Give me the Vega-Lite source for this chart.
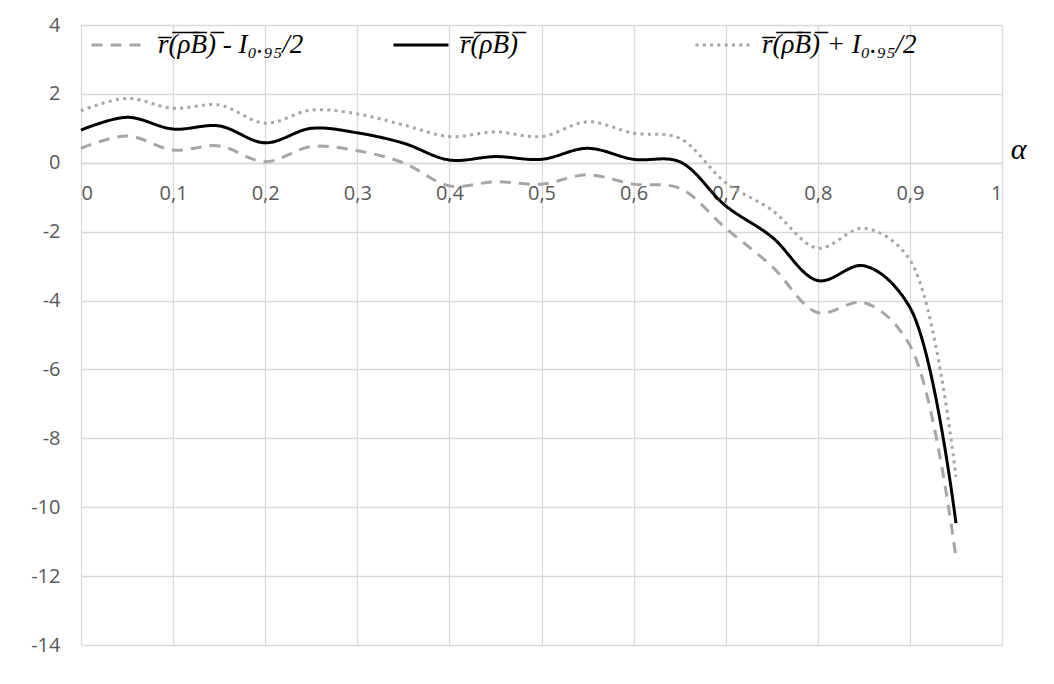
{
  "$schema": "https://vega.github.io/schema/vega-lite/v6.json",
  "width": 921,
  "height": 620,
  "autosize": {"type": "none"},
  "padding": {"left": 81, "top": 25, "right": 52, "bottom": 39},
  "background": "white",
  "config": {
    "view": {"stroke": null},
    "font": "Open Sans",
    "axis": {"gridColor": "#d9d9d9", "gridWidth": 1.3, "labelColor": "#595959", "labelFontSize": 20, "labelFont": "Open Sans", "ticks": false, "domain": false}
  },
  "data": {"values": [
    {"a": 0.00, "s": "mean", "v": 0.95}, {"a": 0.05, "s": "mean", "v": 1.32}, {"a": 0.10, "s": "mean", "v": 0.98}, {"a": 0.15, "s": "mean", "v": 1.07},
    {"a": 0.20, "s": "mean", "v": 0.58}, {"a": 0.25, "s": "mean", "v": 1.0}, {"a": 0.30, "s": "mean", "v": 0.87}, {"a": 0.35, "s": "mean", "v": 0.57},
    {"a": 0.40, "s": "mean", "v": 0.08}, {"a": 0.45, "s": "mean", "v": 0.18}, {"a": 0.50, "s": "mean", "v": 0.1}, {"a": 0.55, "s": "mean", "v": 0.42},
    {"a": 0.60, "s": "mean", "v": 0.1}, {"a": 0.65, "s": "mean", "v": 0.03}, {"a": 0.70, "s": "mean", "v": -1.25}, {"a": 0.75, "s": "mean", "v": -2.15},
    {"a": 0.80, "s": "mean", "v": -3.42}, {"a": 0.85, "s": "mean", "v": -2.99}, {"a": 0.90, "s": "mean", "v": -4.2}, {"a": 0.95, "s": "mean", "v": -10.46},
    {"a": 0.00, "s": "lo", "v": 0.42}, {"a": 0.05, "s": "lo", "v": 0.78}, {"a": 0.10, "s": "lo", "v": 0.37}, {"a": 0.15, "s": "lo", "v": 0.49},
    {"a": 0.20, "s": "lo", "v": 0.03}, {"a": 0.25, "s": "lo", "v": 0.47}, {"a": 0.30, "s": "lo", "v": 0.35}, {"a": 0.35, "s": "lo", "v": 0.0},
    {"a": 0.40, "s": "lo", "v": -0.67}, {"a": 0.45, "s": "lo", "v": -0.55}, {"a": 0.50, "s": "lo", "v": -0.62}, {"a": 0.55, "s": "lo", "v": -0.35},
    {"a": 0.60, "s": "lo", "v": -0.62}, {"a": 0.65, "s": "lo", "v": -0.74}, {"a": 0.70, "s": "lo", "v": -1.9}, {"a": 0.75, "s": "lo", "v": -3.0},
    {"a": 0.80, "s": "lo", "v": -4.35}, {"a": 0.85, "s": "lo", "v": -4.06}, {"a": 0.90, "s": "lo", "v": -5.3}, {"a": 0.95, "s": "lo", "v": -11.47},
    {"a": 0.00, "s": "hi", "v": 1.51}, {"a": 0.05, "s": "hi", "v": 1.87}, {"a": 0.10, "s": "hi", "v": 1.58}, {"a": 0.15, "s": "hi", "v": 1.68},
    {"a": 0.20, "s": "hi", "v": 1.15}, {"a": 0.25, "s": "hi", "v": 1.53}, {"a": 0.30, "s": "hi", "v": 1.42}, {"a": 0.35, "s": "hi", "v": 1.1},
    {"a": 0.40, "s": "hi", "v": 0.76}, {"a": 0.45, "s": "hi", "v": 0.9}, {"a": 0.50, "s": "hi", "v": 0.76}, {"a": 0.55, "s": "hi", "v": 1.19},
    {"a": 0.60, "s": "hi", "v": 0.86}, {"a": 0.65, "s": "hi", "v": 0.71}, {"a": 0.70, "s": "hi", "v": -0.58}, {"a": 0.75, "s": "hi", "v": -1.37},
    {"a": 0.80, "s": "hi", "v": -2.48}, {"a": 0.85, "s": "hi", "v": -1.9}, {"a": 0.90, "s": "hi", "v": -2.82}, {"a": 0.95, "s": "hi", "v": -9.12}
  ]},
  "resolve": {"axis": {"x": "independent"}},
  "layer": [
    {
      "mark": {"type": "line", "strokeOpacity": 0, "interpolate": "catmull-rom"},
      "encoding": {
        "x": {"field": "a", "type": "quantitative", "scale": {"domain": [0, 1], "nice": false},
          "axis": {"orient": "bottom", "offset": -482, "grid": false, "domain": true, "domainColor": "#d9d9d9", "domainWidth": 1.3,
            "values": [0, 0.1, 0.2, 0.3, 0.4, 0.5, 0.6, 0.7, 0.8, 0.9, 1], "labelPadding": 20,
            "labelFontSize": 20, "labelColor": "#595959", "labelFont": "Open Sans",
            "labelExpr": "replace('' + datum.value, '.', ',')",
            "title": "α", "titleFont": "Liberation Serif", "titleFontStyle": "italic", "titleFontWeight": "normal", "titleFontSize": 30, "titleColor": "#000000",
            "titleX": 937, "titleY": -5, "titleAlign": "center", "titleBaseline": "alphabetic"}},
        "y": {"field": "v", "type": "quantitative", "scale": {"domain": [-14, 4], "nice": false},
          "axis": {"values": [-14, -12, -10, -8, -6, -4, -2, 0, 2, 4], "grid": true, "labelPadding": 21, "title": null,
            "labelFontSize": 20, "labelColor": "#595959", "labelFont": "Open Sans",
            "labelExpr": "'' + datum.value"}},
        "detail": {"field": "s"}
      }
    },
    {
      "mark": {"type": "line", "strokeWidth": 3, "interpolate": "catmull-rom"},
      "encoding": {
        "x": {"field": "a", "type": "quantitative",
          "axis": {"orient": "top", "grid": true, "labels": false, "title": null, "values": [0, 0.1, 0.2, 0.3, 0.4, 0.5, 0.6, 0.7, 0.8, 0.9, 1]}},
        "y": {"field": "v", "type": "quantitative"},
        "color": {"field": "s", "type": "nominal",
          "scale": {"domain": ["lo", "mean", "hi"], "range": ["#a6a6a6", "#000000", "#a6a6a6"]},
          "legend": {"orient": "none", "legendX": 9, "legendY": -9, "direction": "horizontal", "columns": 3, "gridAlign": "all",
            "title": null, "symbolType": "stroke", "symbolSize": 3025, "symbolStrokeWidth": 3, "labelOffset": 10,
            "labelFont": "Liberation Serif", "labelFontStyle": "italic", "labelFontSize": 27, "labelColor": "#000000", "labelLimit": 400,
            "columnPadding": 60,
            "labelExpr": "datum.label == 'lo' ? 'r\u0305(\u0305\u03c1\u0305B\u0305)\u0305   - I\u2080.\u2089\u2085/2' : datum.label == 'mean' ? 'r\u0305(\u0305\u03c1\u0305B\u0305)\u0305' : 'r\u0305(\u0305\u03c1\u0305B\u0305)\u0305   + I\u2080.\u2089\u2085/2'"}},
        "strokeDash": {"field": "s", "type": "nominal",
          "scale": {"domain": ["lo", "mean", "hi"], "range": [[11, 8], [1, 0], [3, 4.3]]},
          "legend": null}
      }
    }
  ]
}
